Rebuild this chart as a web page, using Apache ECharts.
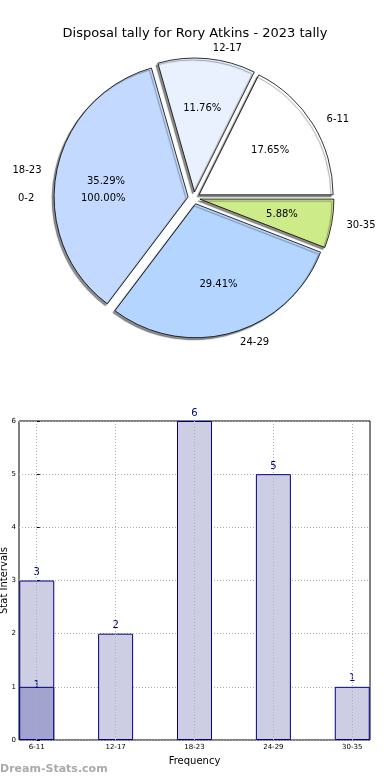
<!DOCTYPE html>
<html><head><meta charset="utf-8">
<script src="https://cdn.jsdelivr.net/npm/echarts@6/dist/echarts.min.js"></script>
<style>html,body{margin:0;padding:0;background:#fff}#c{width:390px;height:780px}</style>
</head><body><div id="c"></div>
<script>
const titleText = 'Disposal tally for Rory Atkins - 2023 tally';
const categories = ['6-11', '12-17', '18-23', '24-29', '30-35'];
const values = [3, 2, 6, 5, 1];
const overlayValues = [1];
const pieColors = ['#ffffff', '#e9f1ff', '#c4d9ff', '#b3d5ff', '#ceeb8a'];
const extraLabel = '0-2';
const extraPct = '100.00%';
const yTicks = [0, 1, 2, 3, 4, 5, 6];

const total = values.reduce((a, b) => a + b, 0);
const FONT = 'DejaVu Sans';
const chart = echarts.init(document.getElementById('c'), null, {renderer: 'canvas'});

const pieData = categories.map((c, i) => ({
  name: c, value: values[i], selected: true,
  itemStyle: {color: pieColors[i]}
}));

chart.setOption({
  animation: false,
  title: {text: titleText, left: 'center', top: 22,
    textStyle: {fontFamily: FONT, fontSize: 13, fontWeight: 'normal', color: '#000'}},
  graphic: [
    {type: 'text', left: 18, top: 193, z: 100, style: {text: extraLabel, font: '10px DejaVu Sans', fill: '#000'}},
    {type: 'text', left: 81, top: 193, z: 100, style: {text: extraPct, font: '10px DejaVu Sans', fill: '#000'}},
    {type: 'text', left: 0, top: 764, z: 100, style: {text: 'Dream-Stats.com', font: 'bold 11px DejaVu Sans', fill: '#aaaaaa'}}
  ],
  grid: {left: 19, right: 20, top: 421, bottom: 40, show: true, borderColor: '#000', borderWidth: 1,
    containLabel: false, outerBoundsMode: 'none'},
  xAxis: {
    type: 'value', min: -0.225, max: 4.225,
    name: 'Frequency', nameLocation: 'middle', nameGap: 16, nameMoveOverlap: false,
    nameTextStyle: {fontFamily: FONT, fontSize: 10, color: '#000'},
    axisLine: {show: false},
    axisTick: {show: true, inside: true, length: 3, customValues: [0, 1, 2, 3, 4], lineStyle: {color: '#000'}},
    axisLabel: {customValues: [0, 1, 2, 3, 4], formatter: v => categories[Math.round(v)] || '',
      fontFamily: FONT, fontSize: 7, color: '#000', margin: 4},
    splitLine: {show: false}
  },
  yAxis: {
    type: 'value', min: 0, max: 6, interval: 1,
    name: 'Stat Intervals', nameLocation: 'middle', nameGap: 10, nameMoveOverlap: false,
    nameTextStyle: {fontFamily: FONT, fontSize: 10, color: '#000'},
    axisLine: {show: false},
    axisTick: {show: true, inside: true, length: 3, lineStyle: {color: '#000'}},
    axisLabel: {fontFamily: FONT, fontSize: 7, color: '#000', margin: 3,
      formatter: v => yTicks.includes(v) ? String(v) : ''},
    splitLine: {show: true, lineStyle: {color: '#b0b0b0', type: [1, 2], width: 1}}
  },
  series: [
    {
      type: 'pie', center: [194, 198], radius: [0, 134],
      startAngle: 0, clockwise: false,
      selectedMode: 'multiple', selectedOffset: 6,
      data: pieData,
      itemStyle: {borderColor: '#000', borderWidth: 0.8,
        shadowColor: 'rgba(0,0,0,0.45)', shadowBlur: 1, shadowOffsetX: -2, shadowOffsetY: 2},
      select: {itemStyle: {borderColor: '#000', borderWidth: 0.8}},
      label: {show: true, position: 'outside', fontFamily: FONT, fontSize: 10, color: '#000',
        formatter: '{b}'},
      labelLine: {show: false, length: 10, length2: 0},
      emphasis: {disabled: true}, silent: true, z: 2
    },
    {
      type: 'pie', center: [194, 198], radius: [27, 134],
      startAngle: 0, clockwise: false,
      selectedMode: 'multiple', selectedOffset: 6,
      data: categories.map((c, i) => ({name: c, value: values[i], selected: true})),
      itemStyle: {color: 'rgba(0,0,0,0)', borderWidth: 0},
      select: {itemStyle: {color: 'rgba(0,0,0,0)', borderWidth: 0}},
      label: {show: true, position: 'inside', fontFamily: FONT, fontSize: 10, color: '#000',
        formatter: p => (p.value / total * 100).toFixed(2) + '%'},
      labelLine: {show: false},
      emphasis: {disabled: true}, silent: true, z: 3
    },
    {
      type: 'bar', barWidth: 35, barGap: '-100%',
      data: values.map((v, i) => [i, v]),
      itemStyle: {color: '#cdcde4', borderColor: '#000080', borderWidth: 1},
      label: {show: true, position: 'top', distance: 3, fontFamily: FONT, fontSize: 10, color: '#000080',
        formatter: p => p.value[1]},
      markLine: {
        silent: true, symbol: 'none', label: {show: false},
        lineStyle: {color: '#b0b0b0', type: [1, 2], width: 1},
        data: [0, 1, 2, 3, 4].map(x => ({xAxis: x}))
      },
      z: 2
    },
    {
      type: 'bar', barWidth: 35, barGap: '-100%',
      data: overlayValues.map((v, i) => [i, v]),
      itemStyle: {color: '#a3a3d0', borderColor: '#000080', borderWidth: 1},
      label: {show: true, position: 'insideTop', distance: -6, fontFamily: FONT, fontSize: 10, color: '#000080',
        formatter: p => p.value[1]},
      z: 3
    }
  ]
});
</script></body></html>
